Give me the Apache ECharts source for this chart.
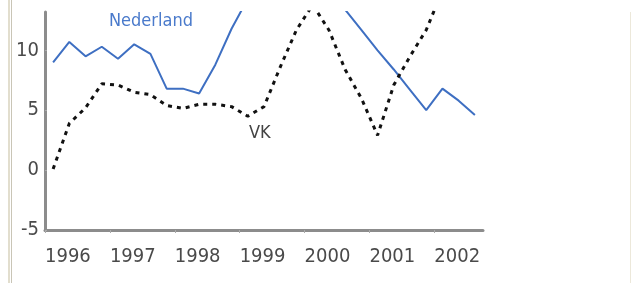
<!DOCTYPE html>
<html>
<head>
<meta charset="utf-8">
<script src="https://cdn.jsdelivr.net/npm/echarts@6/dist/echarts.min.js"></script>
<style>
  html, body {margin: 0; padding: 0; background: #fff;}
  #chart {width: 632px; height: 283px;}
</style>
</head>
<body>
<div id="chart"></div>
<script>
// quarterly data, 1996K1 .. 2002K3
var quarters = [
  '1996K1', '1996K2', '1996K3', '1996K4',
  '1997K1', '1997K2', '1997K3', '1997K4',
  '1998K1', '1998K2', '1998K3', '1998K4',
  '1999K1', '1999K2', '1999K3', '1999K4',
  '2000K1', '2000K2', '2000K3', '2000K4',
  '2001K1', '2001K2', '2001K3', '2001K4',
  '2002K1', '2002K2', '2002K3'
]
var nederland = [9.0, 10.7, 9.5, 10.3, 9.3, 10.5, 9.7, 6.8, 6.8, 6.4, 8.8, 11.8,
  14.3, 16.0, 17.0, 17.0, 16.5, 15.0, 13.4, 11.7, 10.0, 8.4, 6.7, 5.0, 6.8, 5.8, 4.6]
var vk = [0.1, 3.9, 5.2, 7.2, 7.1, 6.5, 6.3, 5.4, 5.15, 5.5, 5.5, 5.3,
  4.5, 5.3, 8.6, 11.7, 13.8, 11.7, 8.4, 6.0, 2.9, 7.1, 9.5, 11.7, 15.0]
var years = ['1996', '1997', '1998', '1999', '2000', '2001', '2002']
var yTicks = [-5, 0, 5, 10]

// place each quarter at its middle on a year axis
function qTime(q) {
  return parseInt(q.slice(0, 4)) + (parseInt(q.slice(5)) - 0.5) / 4
}
function pairs(values) {
  return values.map(function (v, i) { return [qTime(quarters[i]), v] })
}

var font = '"DejaVu Sans Condensed", "DejaVu Sans", sans-serif'
var chart = echarts.init(document.getElementById('chart'))

var option = {
  animation: false,
  grid: {left: 45, right: 149, top: 12, bottom: 53},
  xAxis: {
    type: 'value',
    min: parseInt(years[0]),
    max: parseInt(years[years.length - 1]) + 0.75,
    interval: 1,
    splitLine: {show: false},
    axisLine: {show: true, onZero: false, lineStyle: {color: '#8c8c8c', width: 3}},
    axisTick: {show: true, length: 3, lineStyle: {color: '#aaa', width: 1}},
    axisLabel: {
      showMaxLabel: false,
      align: 'left',
      margin: 17,
      color: '#4a4a4a',
      fontFamily: font,
      fontSize: 20,
      formatter: function (v) {
        return years.indexOf(String(v)) >= 0 ? String(v) : ''
      }
    }
  },
  yAxis: {
    type: 'value',
    min: yTicks[0],
    max: 13.2,
    interval: 5,
    splitLine: {show: false},
    axisLine: {show: true, lineStyle: {color: '#8c8c8c', width: 3}},
    axisTick: {show: true, length: 2, inside: true, lineStyle: {color: '#aaa'}},
    axisLabel: {
      showMaxLabel: false,
      margin: 6,
      color: '#4a4a4a',
      fontFamily: font,
      fontSize: 20,
      formatter: function (v) {
        return yTicks.indexOf(v) >= 0 ? String(v) : ''
      }
    }
  },
  series: [
    {
      name: 'Nederland',
      type: 'line',
      data: pairs(nederland),
      symbol: 'none',
      clip: true,
      lineStyle: {color: '#3e6fc2', width: 2}
    },
    {
      name: 'VK',
      type: 'line',
      data: pairs(vk),
      symbol: 'none',
      clip: true,
      lineStyle: {color: '#111', width: 3, type: [4, 5]}
    }
  ],
  graphic: [
    {type: 'rect', left: 8, top: 0, shape: {width: 2, height: 283}, style: {fill: '#e2dece'}},
    {type: 'rect', left: 11, top: 0, shape: {width: 1, height: 283}, style: {fill: '#c9c5b6'}},
    {type: 'rect', left: 630, top: 12, shape: {width: 1, height: 271}, style: {fill: '#ece8da'}},
    {
      type: 'text', left: 109, top: 12,
      style: {text: 'Nederland', fill: '#4a7acb', font: '18px ' + font}
    },
    {
      type: 'text', left: 249, top: 124,
      style: {text: 'VK', fill: '#444', font: '18px ' + font}
    }
  ]
}
chart.setOption(option)
</script>
</body>
</html>
